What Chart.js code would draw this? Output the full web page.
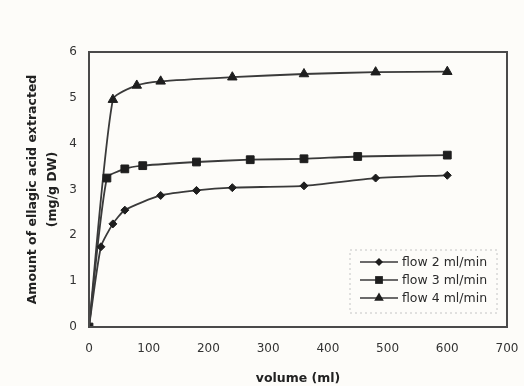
<!DOCTYPE html>
<html>
<head>
<meta charset="utf-8">
<script src="https://cdn.jsdelivr.net/npm/chart.js@4/dist/chart.umd.min.js"></script>
<style>
  html, body { margin: 0; padding: 0; background: #fdfcf9; }
  #wrap { width: 524px; height: 386px; }
</style>
</head>
<body>
<div id="wrap"><canvas id="myChart" width="524" height="386"></canvas></div>
<script>
// values
var volume2 = [0, 20, 40, 60, 120, 180, 240, 360, 480, 600];
var flow2 = [0, 1.75, 2.25, 2.55, 2.87, 2.98, 3.04, 3.08, 3.25, 3.31];

var volume3 = [0, 30, 60, 90, 180, 270, 360, 450, 600];
var flow3 = [0, 3.25, 3.45, 3.52, 3.6, 3.65, 3.67, 3.72, 3.75];

var volume4 = [0, 40, 80, 120, 240, 360, 480, 600];
var flow4 = [0, 4.96, 5.27, 5.36, 5.45, 5.52, 5.56, 5.57];

var seriesLabels = ["flow 2 ml/min", "flow 3 ml/min", "flow 4 ml/min"];
var xTicks = [0, 100, 200, 300, 400, 500, 600, 700];
var yTicks = [0, 1, 2, 3, 4, 5, 6];

function toPoints(xs, ys) {
  return xs.map(function (x, i) { return { x: x, y: ys[i] }; });
}

var lineColor = "#3a3a3a";
var markColor = "#1e1e1e";
var fontFamily = "'DejaVu Sans', sans-serif";

function makeSet(label, xs, ys, style, radius) {
  return {
    label: label,
    data: toPoints(xs, ys),
    borderColor: lineColor,
    backgroundColor: markColor,
    borderWidth: 1.8,
    pointStyle: style,
    pointRadius: radius,
    pointBorderWidth: 1,
    pointBorderColor: markColor,
    pointBackgroundColor: markColor,
    tension: 0.2,
    fill: false,
  };
}

function drawMark(ctx, style, x, y, r) {
  ctx.beginPath();
  if (style === "rectRot") {
    ctx.moveTo(x, y - r); ctx.lineTo(x + r, y); ctx.lineTo(x, y + r); ctx.lineTo(x - r, y);
  } else if (style === "rect") {
    var s = r * Math.SQRT1_2;
    ctx.rect(x - s, y - s, 2 * s, 2 * s);
  } else {
    ctx.moveTo(x, y - r); ctx.lineTo(x + r * 0.87, y + r * 0.5); ctx.lineTo(x - r * 0.87, y + r * 0.5);
  }
  ctx.closePath();
  ctx.fill();
}

var frameAndLegend = {
  id: "frameAndLegend",
  afterDatasetsDraw: function (chart) {
    var ctx = chart.ctx;
    var a = chart.chartArea;
    ctx.save();
    // plot frame
    ctx.strokeStyle = "#4a4a4a";
    ctx.lineWidth = 2;
    ctx.strokeRect(a.left, a.top, a.right - a.left, a.bottom - a.top);

    // legend box, bottom right inside the plot
    var bw = 147, bh = 63;
    var bx = a.right - 10 - bw, by = a.bottom - 14 - bh;
    ctx.setLineDash([2, 3]);
    ctx.strokeStyle = "#c4c4c4";
    ctx.lineWidth = 1;
    ctx.strokeRect(bx, by, bw, bh);
    ctx.setLineDash([]);

    ctx.font = "12.5px " + fontFamily;
    ctx.textBaseline = "middle";
    chart.data.datasets.forEach(function (ds, i) {
      var ry = by + 12 + i * 18;
      ctx.strokeStyle = lineColor;
      ctx.lineWidth = 1.6;
      ctx.beginPath();
      ctx.moveTo(bx + 10, ry);
      ctx.lineTo(bx + 48, ry);
      ctx.stroke();
      ctx.fillStyle = markColor;
      drawMark(ctx, ds.pointStyle, bx + 29, ry, ds.pointRadius);
      ctx.fillStyle = "#2a2a2a";
      ctx.fillText(ds.label, bx + 52, ry + 1);
    });
    ctx.restore();
  },
};

var ctx = document.getElementById("myChart").getContext("2d");
var myChart = new Chart(ctx, {
  type: "line",
  data: {
    datasets: [
      makeSet(seriesLabels[0], volume2, flow2, "rectRot", 4),
      makeSet(seriesLabels[1], volume3, flow3, "rect", 5.5),
      makeSet(seriesLabels[2], volume4, flow4, "triangle", 5.5),
    ],
  },
  options: {
    responsive: false,
    animation: false,
    layout: { padding: { left: 0, right: 17, top: 52, bottom: 0 } },
    plugins: {
      legend: { display: false },
      tooltip: { enabled: false },
    },
    scales: {
      x: {
        type: "linear",
        min: 0,
        max: 700,
        afterBuildTicks: function (scale) {
          scale.ticks = xTicks.map(function (v) { return { value: v }; });
        },
        afterFit: function (scale) {
          scale.height = 59;
          scale.paddingLeft = 0;
          scale.paddingRight = 0;
        },
        grid: { display: false, drawTicks: false },
        border: { display: false },
        ticks: {
          padding: 15,
          color: "#333",
          font: { family: fontFamily, size: 12 },
        },
        title: {
          display: true,
          text: "volume (ml)",
          color: "#222",
          font: { family: fontFamily, size: 12.5, weight: "bold", lineHeight: 1.2 },
          padding: { top: 0, bottom: 0 },
        },
      },
      y: {
        min: 0,
        max: 6,
        afterBuildTicks: function (scale) {
          scale.ticks = yTicks.map(function (v) { return { value: v }; });
        },
        afterFit: function (scale) {
          scale.width = 89;
          scale.paddingTop = 0;
          scale.paddingBottom = 0;
        },
        grid: { display: false, drawTicks: false },
        border: { display: false },
        ticks: {
          padding: 12,
          color: "#333",
          font: { family: fontFamily, size: 12 },
        },
        title: {
          display: true,
          text: ["Amount of ellagic acid extracted", "(mg/g DW)"],
          color: "#222",
          font: { family: fontFamily, size: 12.5, weight: "bold", lineHeight: 1.6 },
          padding: { top: 23, bottom: 0 },
        },
      },
    },
  },
  plugins: [frameAndLegend],
});
</script>
</body>
</html>
